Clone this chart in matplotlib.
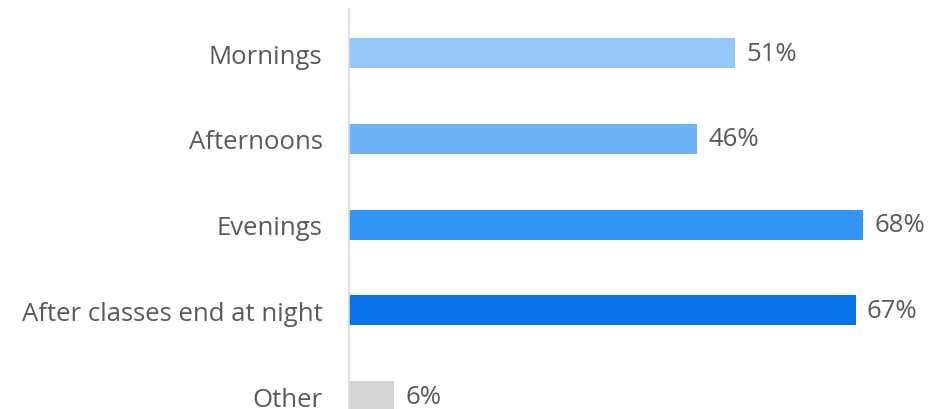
import matplotlib.pyplot as plt

categories = ['Mornings', 'Afternoons', 'Evenings', 'After classes end at night', 'Other']
values = [51, 46, 68, 67, 6]
colors = ['#94c8f8', '#6cb3f5', '#3296f6', '#0a73e8', '#d4d4d4']

plt.rcParams['font.family'] = ['Open Sans', 'DejaVu Sans']

fig = plt.figure(figsize=(9.35, 4.10), dpi=100)
ax = fig.add_axes([349 / 935, 0, 1 - 349 / 935, 400 / 410])

y = list(range(len(categories)))
ax.barh(y, values, height=0.35, color=colors)
for yi, v in zip(y, values):
    ax.text(v + 1.5, yi, f'{v}%', va='center', ha='left', fontsize=18.5, color='#595959')

ax.set_xlim(0, 77.5)
ax.set_ylim(4.15, -0.513)
ax.set_yticks(y)
ax.set_yticklabels(categories, fontsize=18.5, color='#595959')
ax.tick_params(axis='y', length=0, pad=19)
ax.set_xticks([])
for s in ['top', 'right', 'bottom']:
    ax.spines[s].set_visible(False)
ax.spines['left'].set_color('#d9d9d9')
ax.spines['left'].set_linewidth(1.2)

fig.savefig('out.png', dpi=100)
